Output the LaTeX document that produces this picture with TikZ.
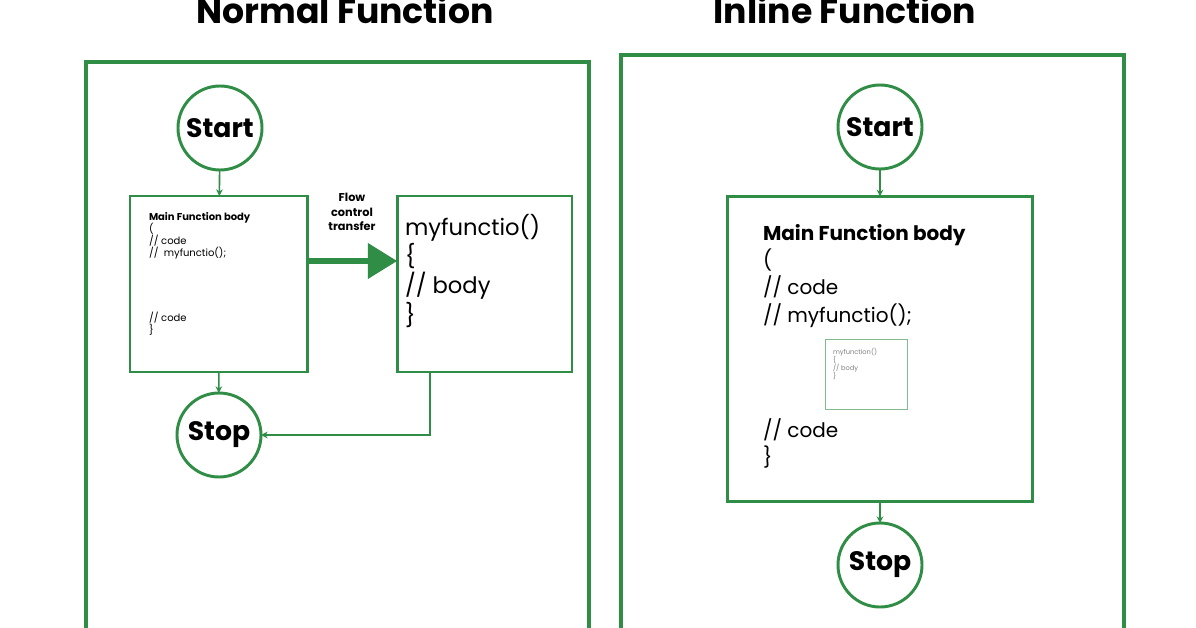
\documentclass[tikz,border=0pt]{standalone}
\usepackage{fontspec}
\setmainfont{Poppins}
\usetikzlibrary{arrows.meta}
\definecolor{gfg}{RGB}{47,141,70}
\begin{document}
\begin{tikzpicture}[x=0.75pt,y=-0.75pt,inner sep=0pt,outer sep=0pt,
    term/.style={circle,draw=gfg,line width=2.2pt,minimum size=63pt,font=\fontsize{20}{24}\selectfont\bfseries},
    box/.style={draw=gfg,line width=2pt,rectangle},
    frame/.style={draw=gfg,line width=3.5pt},
    link/.style={draw=gfg,line width=1.2pt,-{Stealth[length=5pt,width=5pt]}}]
    \useasboundingbox (0,0) rectangle (1196,628);
    \fill[white] (0,0) rectangle (1196,628);
    % titles
    \node (title_n) at (345,10) {\fontsize{26}{30}\selectfont\bfseries Normal Function};
    \node (title_i) at (845,10) {\fontsize{26}{30}\selectfont\bfseries Inline Function};
    % frames
    \draw[frame] (86,650) -- (86,62) -- (589,62) -- (589,650);
    \draw[frame] (621,650) -- (621,55) -- (1124,55) -- (1124,650);

    % normal function
    \node[term] (start_n) at (220,128) {Start};
    \node[term] (stop_n) at (219,435) {Stop};
    \node[box,minimum width=133pt,minimum height=132pt] (main_n) at (218.5,284) {};
    \node[box,minimum width=131pt,minimum height=132pt] (func_n) at (484.5,284) {};
    \node[anchor=north west,align=left,font=\fontsize{7.5}{9}\selectfont] (main_n_txt) at (149,212)
    {\textbf{Main Function body}\\(\\// code\\//\ \ myfunctio();\\[40pt]// code\\\}};
    \node[anchor=north west,align=left,font=\fontsize{17}{22}\selectfont] (func_n_txt) at (405,214)
    {myfunctio()\\\{\\// body\\\}};
    \node[align=center,font=\fontsize{8.5}{11}\selectfont\bfseries] (flow_txt) at (352,212)
    {Flow\\control\\transfer};
    \draw[link] (start_n) -- (main_n);
    \draw[link] (main_n) -- (stop_n);
    \draw[draw=gfg,line width=4pt,-{Triangle[length=22pt,width=26pt]}] (main_n.east |- 0,261) -- (func_n.west |- 0,261);
    \draw[link] (430,372) |- (stop_n.east);

    % inline function
    \node[term] (start_i) at (880,127) {Start};
    \node[term] (stop_i) at (880,565) {Stop};
    \node[box,minimum width=229pt,minimum height=229pt] (main_i) at (880,349) {};
    \node[anchor=north west,align=left,font=\fontsize{15}{20.5}\selectfont] (main_i_txt) at (763,224)
    {\textbf{Main Function body}\\(\\// code\\// myfunctio();\\[66pt]// code\\\}};
    \node[draw=gfg!60,line width=0.8pt,minimum width=61pt,minimum height=52pt] (inner_i) at (866.5,374.5) {};
    \node[anchor=north west,align=left,font=\fontsize{5}{6}\selectfont,text=gray] (inner_i_txt) at (833,348)
    {myfunction()\\\{\\// body\\\}};
    \draw[link] (start_i) -- (main_i);
    \draw[link] (main_i) -- (stop_i);
\end{tikzpicture}
\end{document}
